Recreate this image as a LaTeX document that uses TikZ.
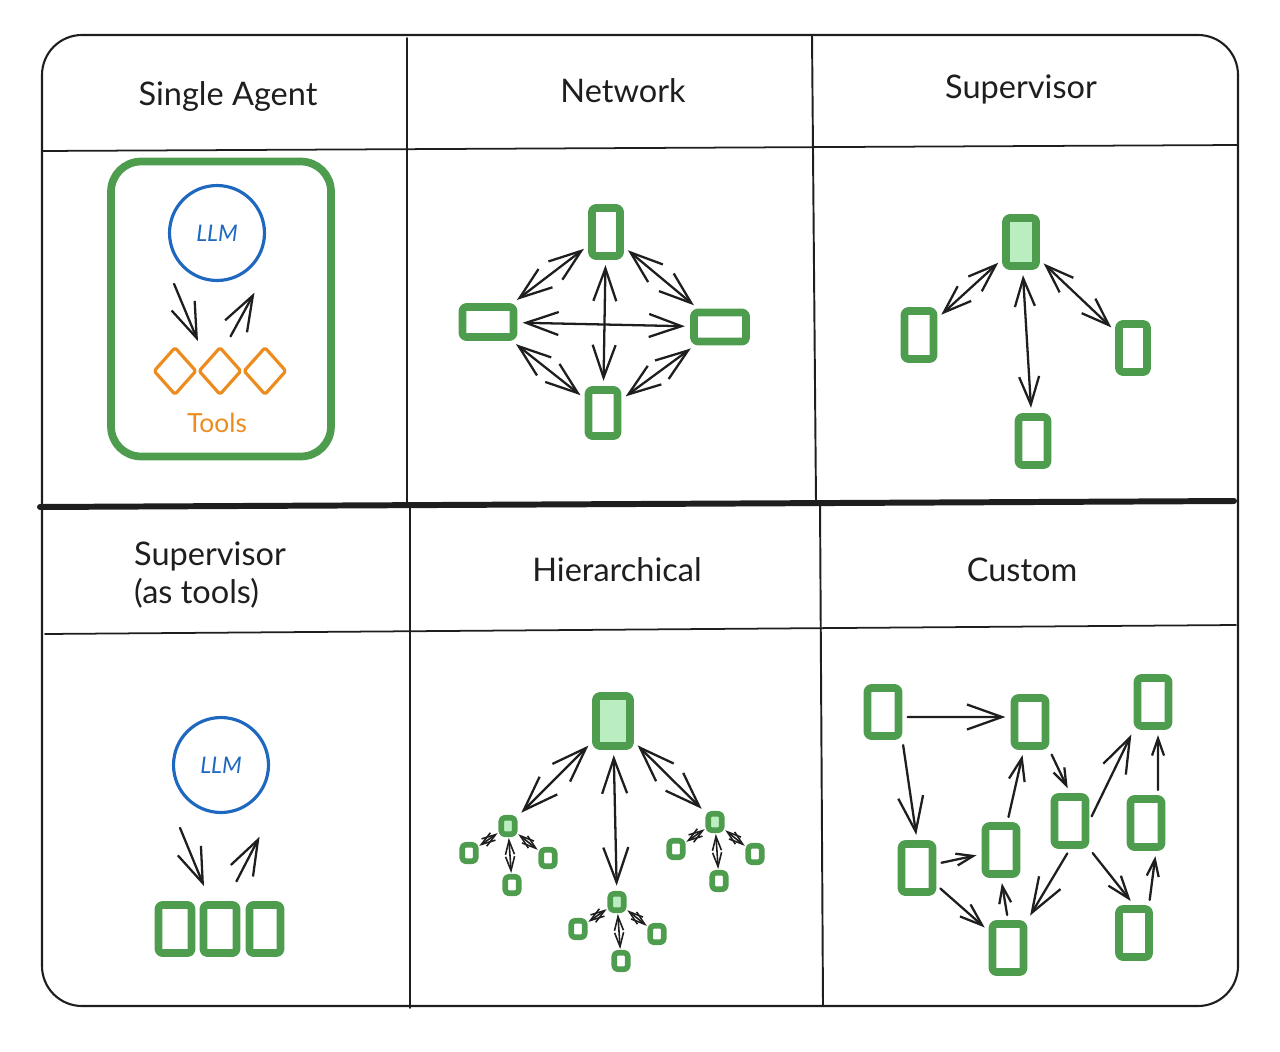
\documentclass[tikz,border=0pt]{standalone}
\usepackage{fontspec}
\setmainfont{Lato}
\usetikzlibrary{arrows.meta, shapes.geometric, positioning}

\definecolor{agentgreen}{RGB}{78,156,78}
\definecolor{agentfill}{RGB}{186,238,192}
\definecolor{llmblue}{RGB}{30,104,192}
\definecolor{toolorange}{RGB}{236,140,30}
\definecolor{ink}{RGB}{30,30,30}

\begin{document}
\begin{tikzpicture}[x=0.02cm,y=-0.02cm,>={Straight Barb[length=7mm,width=5mm]},
 line cap=round,line join=round,node distance=.9cm,
 agent/.style={draw=agentgreen,line width=4.4pt,rounded corners=2pt,
   minimum width=.62cm,minimum height=.96cm,inner sep=0pt},
 boss/.style={agent,fill=agentfill},
 leaf/.style={agent,line width=3.2pt,minimum width=.27cm,minimum height=.33cm},
 llm/.style={circle,draw=llmblue,line width=1.8pt,minimum size=1.9cm,
   text=llmblue,font=\itshape\fontsize{13}{15}\selectfont},
 tool/.style={diamond,draw=toolorange,line width=1.8pt,minimum width=.86cm,
   minimum height=.96cm,inner sep=0pt,rounded corners=1pt},
 title/.style={text=ink,font=\fontsize{18.5}{21.5}\selectfont},
 link/.style={draw=ink,line width=1.3pt,shorten >=3pt,shorten <=3pt},
 mid head/.style={>={Straight Barb[length=4.5mm,width=3.2mm]}},
 small head/.style={>={Straight Barb[length=3.4mm,width=2.4mm]}},
 leaf link/.style={link,line width=.9pt,shorten >=.5pt,shorten <=.5pt,
   >={Straight Barb[length=2.8mm,width=1.8mm]}}]

  \useasboundingbox (0,0) rectangle (1280,1051);

  % frame and grid
  \draw[ink,line width=1.2pt,rounded corners=.8cm] (42,35) rectangle (1238,1006);
  \draw[ink,line width=1pt] (42,151) -- (1238,145);
  \draw[ink,line width=1pt] (45,634) -- (1236,625);
  \draw[ink,line width=3.4pt] (40,507) -- (1234,501);
  \draw[ink,line width=1.1pt] (407,38) -- (407,505) (410,505) -- (410,1008)
    (812,35) -- (816,503) (820,503) -- (823,1006);

  % titles
  \node[title] (single title) at (228,96) {Single Agent};
  \node[title] (network title) at (623,91) {Network};
  \node[title] (supervisor title) at (1021,89) {Supervisor};
  \node[title,align=left] (tools title) at (210,575) {Supervisor\\(as tools)};
  \node[title] (hier title) at (617,570) {Hierarchical};
  \node[title] (custom title) at (1022,570) {Custom};

  % single agent
  \node[draw=agentgreen,line width=4.4pt,rounded corners=.6cm,minimum width=4.4cm,
    minimum height=5.9cm] (single box) at (221,309) {};
  \node[llm] (llm) at (217,233) {LLM};
  \node[tool] (tool 1) at (175,371) {};
  \node[tool] (tool 2) [right of=tool 1] {};
  \node[tool] (tool 3) [right of=tool 2] {};
  \node[text=toolorange,font=\fontsize{15}{18}\selectfont] (tools) at (217,423) {Tools};
  \coordinate (call from) at (172,279);
  \coordinate (call to) at (200,346);
  \coordinate (back from) at (228,341);
  \coordinate (back to) at (257,288);
  \path[->] (call from) edge[link] (call to) (back from) edge[link] (back to);

  % network
  \node[agent,minimum width=.56cm] (n top) at (606,232) {};
  \node[agent,minimum width=1.02cm,minimum height=.6cm] (n left) at (488,322) {};
  \node[agent,minimum width=1.04cm,minimum height=.58cm] (n right) at (720,327) {};
  \node[agent,minimum width=.58cm,minimum height=.92cm] (n bottom) at (603,413) {};
  \foreach \s/\t in {n top/n left, n top/n right, n top/n bottom,
                     n left/n right, n left/n bottom, n right/n bottom} {
   \path[<->,>={Straight Barb[length=6.5mm,width=4.6mm]}] (\s) edge[link] (\t);}

  % supervisor
  \node[boss,minimum width=.6cm] (s top) at (1021,242) {};
  \node[agent,minimum width=.58cm,minimum height=.96cm] (s left) at (919,335) {};
  \node[agent,minimum width=.56cm] (s right) at (1133,348) {};
  \node[agent,minimum width=.58cm] (s bottom) at (1033,441) {};
  \foreach \t in {s left, s right, s bottom} {
   \path[<->,>={Straight Barb[length=5.6mm,width=4mm]}] (s top) edge[link] (\t);}

  % supervisor (as tools)
  \node[llm] (llm 2) at (221,765) {LLM};
  \node[agent,minimum width=.66cm,minimum height=.96cm] (tool box 1) at (175,929) {};
  \node[agent,minimum width=.66cm,minimum height=.96cm] (tool box 2) [right of=tool box 1] {};
  \node[agent,minimum width=.62cm,minimum height=.96cm] (tool box 3) [right of=tool box 2] {};
  \coordinate (ask from) at (178,823);
  \coordinate (ask to) at (206,891);
  \coordinate (reply from) at (234,886);
  \coordinate (reply to) at (262,832);
  \path[->] (ask from) edge[link] (ask to) (reply from) edge[link] (reply to);

  % hierarchical
  \node[boss,minimum width=.68cm,minimum height=1cm] (h top) at (613,721) {};
  \node[leaf,fill=agentfill] (h left) at (508,826) {};
  \node[leaf,fill=agentfill] (h mid) at (617,902) {};
  \node[leaf,fill=agentfill] (h right) at (715,822) {};
  \foreach \t in {h left, h mid, h right} {
   \path[<->] (h top) edge[link] (\t);}
  \foreach \g in {h left, h mid, h right} {
   \node[leaf] (\g-1) at ([shift={(-39,27)}]\g.center) {};
   \node[leaf] (\g-2) at ([shift={(4,59)}]\g.center) {};
   \node[leaf] (\g-3) at ([shift={(40,32)}]\g.center) {};
   \foreach \i in {1,2,3} {
    \path[<->] (\g) edge[leaf link] (\g-\i);}}

  % custom
  \node[agent] (c1) at (883,712) {};
  \node[agent] (c2) at (1030,722) {};
  \node[agent] (c3) at (1153,702) {};
  \node[agent] (c4) at (917,868) {};
  \node[agent] (c5) at (1001,850) {};
  \node[agent] (c6) at (1070,821) {};
  \node[agent] (c7) at (1146,823) {};
  \node[agent] (c8) at (1008,948) {};
  \node[agent,minimum width=.6cm] (c9) at (1134,933) {};
  \path[->]
   ([yshift=-.1cm]c1.east) edge[link] ([yshift=.1cm]c2.west)
   (c1.south east) edge[link] (c4.north)
   (c6.east) edge[link] (c3.south west)
   (c6.south) edge[link] (c8.north east);
  \path[->,mid head]
   (c4) edge[link] (c8)
   (c5) edge[link] (c2)
   (c6.south east) edge[link] (c9.north);
  \path[->,small head]
   (c4) edge[link] (c5)
   (c8.north) edge[link] (c5.south)
   (c2.south east) edge[link] (c6.north)
   ([xshift=.3cm]c9.north) edge[link] ([xshift=.2cm]c7.south)
   ([xshift=.24cm]c7.north) edge[link] ([xshift=.1cm]c3.south);
\end{tikzpicture}
\end{document}
